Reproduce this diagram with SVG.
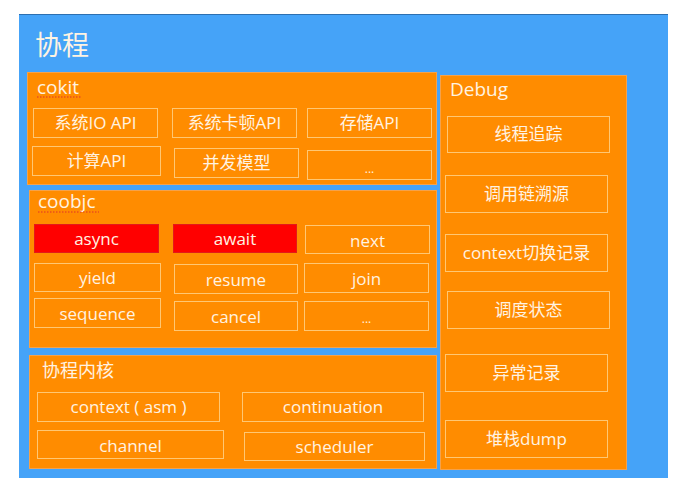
<svg xmlns="http://www.w3.org/2000/svg" width="689" height="495" viewBox="0 0 689 495">
<style>
.grp{fill:#FF8C00;stroke:#F5A24A;stroke-width:1}
.it{fill:#FF8C00;stroke:#FFC773;stroke-width:1}
.red{fill:#FF0000;stroke:#E21A1A;stroke-width:1}
text{font-family:"Open Sans","Noto Sans CJK SC",sans-serif;fill:#FFF3E2}
.t{font-size:17px;text-anchor:middle}
.h{font-size:19px}
.sq{stroke:#E0302A;stroke-width:1;stroke-dasharray:1.5 1.5}
</style>
<rect x="0" y="0" width="689" height="495" fill="#FFFFFF"/>
<g id="main">
<rect x="19" y="14" width="649" height="464" fill="#45A3F8"/>
<line x1="19" y1="14.5" x2="668" y2="14.5" stroke="#2D6FB0" stroke-width="1"/>
<text x="35" y="55" style="font-size:27px">协程</text>
</g>
<g id="cokit">
<rect class="grp" x="27.5" y="72.5" width="409" height="112"/>
<text class="h" x="37" y="94">cokit</text>
<line class="sq" x1="37" y1="97" x2="81" y2="97"/>
</g>
<g id="cokit-io"><rect class="it" x="33.5" y="108.5" width="124" height="29"/><text class="t" x="95.5" y="129">系统IO API</text></g>
<g id="cokit-lag"><rect class="it" x="172.5" y="108.5" width="124" height="29"/><text class="t" x="234.5" y="129">系统卡顿API</text></g>
<g id="cokit-store"><rect class="it" x="307.5" y="108.5" width="124" height="29"/><text class="t" x="369.5" y="129">存储API</text></g>
<g id="cokit-calc"><rect class="it" x="32.5" y="146.5" width="128" height="29"/><text class="t" x="96.5" y="167">计算API</text></g>
<g id="cokit-conc"><rect class="it" x="174.5" y="148.5" width="124" height="29"/><text class="t" x="236.5" y="169">并发模型</text></g>
<g id="cokit-more"><rect class="it" x="307.5" y="150.5" width="124" height="29"/><text class="t" x="369.5" y="173" style="font-size:12px">...</text></g>

<g id="coobjc">
<rect class="grp" x="29.5" y="190.5" width="407" height="157"/>
<text class="h" x="38" y="208">coobjc</text>
<line class="sq" x1="38" y1="212" x2="99" y2="212"/>
</g>
<g id="co-async"><rect class="red" x="34.5" y="224.5" width="124" height="28"/><text class="t" x="96.5" y="245">async</text></g>
<g id="co-await"><rect class="red" x="173.5" y="224.5" width="123" height="28"/><text class="t" x="235" y="245">await</text></g>
<g id="co-next"><rect class="it" x="305.5" y="225.5" width="124" height="28"/><text class="t" x="367.5" y="247">next</text></g>
<g id="co-yield"><rect class="it" x="34.5" y="263.5" width="126" height="28"/><text class="t" x="97.5" y="284">yield</text></g>
<g id="co-resume"><rect class="it" x="174.5" y="264.5" width="123" height="29"/><text class="t" x="236" y="286">resume</text></g>
<g id="co-join"><rect class="it" x="304.5" y="263.5" width="124" height="29"/><text class="t" x="366.5" y="285">join</text></g>
<g id="co-seq"><rect class="it" x="34.5" y="298.5" width="126" height="29"/><text class="t" x="97.5" y="320">sequence</text></g>
<g id="co-cancel"><rect class="it" x="174.5" y="301.5" width="123" height="29"/><text class="t" x="236" y="323">cancel</text></g>
<g id="co-more"><rect class="it" x="304.5" y="301.5" width="124" height="29"/><text class="t" x="366.5" y="323" style="font-size:12px">...</text></g>

<g id="kernel">
<rect class="grp" x="29.5" y="355.5" width="407" height="113"/>
<text class="h" x="42" y="377" style="font-size:18px">协程内核</text>
</g>
<g id="k-context"><rect class="it" x="37.5" y="392.5" width="182" height="29"/><text class="t" x="128.5" y="413">context ( asm )</text></g>
<g id="k-cont"><rect class="it" x="242.5" y="392.5" width="181" height="29"/><text class="t" x="333" y="413">continuation</text></g>
<g id="k-channel"><rect class="it" x="37.5" y="430.5" width="186" height="28"/><text class="t" x="130.5" y="452">channel</text></g>
<g id="k-sched"><rect class="it" x="244.5" y="432.5" width="180" height="28"/><text class="t" x="334.5" y="453">scheduler</text></g>

<g id="debug">
<rect class="grp" x="440.5" y="75.5" width="186" height="394"/>
<text class="h" x="450" y="96">Debug</text>
</g>
<g id="d-thread"><rect class="it" x="447.5" y="116.5" width="162" height="36"/><text class="t" x="528.5" y="140">线程追踪</text></g>
<g id="d-call"><rect class="it" x="445.5" y="175.5" width="162" height="37"/><text class="t" x="526.5" y="200">调用链溯源</text></g>
<g id="d-ctx"><rect class="it" x="445.5" y="234.5" width="162" height="37"/><text class="t" x="526.5" y="259">context切换记录</text></g>
<g id="d-sched"><rect class="it" x="447.5" y="291.5" width="162" height="37"/><text class="t" x="528.5" y="316">调度状态</text></g>
<g id="d-exc"><rect class="it" x="445.5" y="354.5" width="162" height="37"/><text class="t" x="526.5" y="379">异常记录</text></g>
<g id="d-stack"><rect class="it" x="445.5" y="420.5" width="162" height="37"/><text class="t" x="526.5" y="445">堆栈dump</text></g>
<g id="connectors"></g>
</svg>
